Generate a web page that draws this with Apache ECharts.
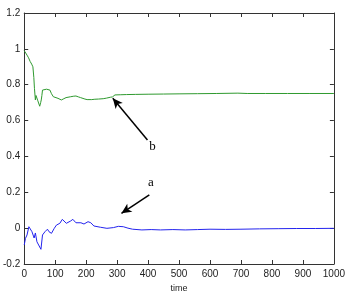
<!DOCTYPE html>
<html>
<head>
<meta charset="utf-8">
<script src="https://cdn.jsdelivr.net/npm/echarts@6/dist/echarts.min.js"></script>
<style>
  html, body { margin: 0; padding: 0; background: #fff; }
  #chart { width: 348px; height: 298px; }
</style>
</head>
<body>
<div id="chart"></div>
<script>
// x tick labels
var xTicks = [0, 100, 200, 300, 400, 500, 600, 700, 800, 900, 1000];

// curve b (green): [time, value]
var seriesB = [
  [0, 0.99], [4, 0.985], [9, 0.965], [14, 0.95], [19, 0.93], [24, 0.915], [28, 0.9],
  [31, 0.84], [33, 0.78], [36, 0.715], [38, 0.74], [41, 0.73], [44, 0.71], [46, 0.70],
  [48, 0.72], [50, 0.68], [53, 0.70], [55, 0.715], [57, 0.74], [59, 0.77], [62, 0.778],
  [65, 0.778], [72, 0.775], [78, 0.772], [83, 0.77], [88, 0.75], [94, 0.733], [100, 0.728],
  [109, 0.724], [115, 0.718], [120, 0.715], [128, 0.722], [135, 0.728], [141, 0.73],
  [150, 0.733], [160, 0.736], [167, 0.737], [175, 0.732], [182, 0.728], [188, 0.724],
  [196, 0.72], [203, 0.717], [209, 0.715], [218, 0.717], [228, 0.719], [240, 0.72],
  [246, 0.72], [255, 0.722], [265, 0.725], [278, 0.73], [285, 0.732], [288, 0.74],
  [293, 0.743], [310, 0.744], [330, 0.745], [360, 0.746], [400, 0.747], [450, 0.748],
  [500, 0.749], [560, 0.75], [620, 0.751], [690, 0.753], [720, 0.751], [780, 0.751],
  [850, 0.751], [920, 0.751], [1000, 0.751]
];

// curve a (blue): [time, value]
var seriesA = [
  [0, -0.094], [4, -0.057], [9, -0.038], [15, 0.008], [19, 0.017], [25, -0.02],
  [32, -0.055], [36, -0.027], [41, -0.076], [46, -0.083], [54, -0.118], [59, -0.038],
  [67, -0.02], [75, -0.006], [80, -0.02], [88, -0.029], [97, -0.001], [104, 0.017],
  [115, 0.027], [123, 0.049], [136, 0.027], [150, 0.04], [157, 0.049], [167, 0.03],
  [183, 0.03], [193, 0.023], [206, 0.036], [215, 0.03], [225, 0.012], [246, 0.005],
  [267, -0.001], [288, 0.003], [304, 0.01], [320, 0.008], [335, 0.0], [350, -0.006],
  [380, -0.01], [410, -0.008], [440, -0.01], [480, -0.008], [520, -0.01], [560, -0.008],
  [600, -0.006], [650, -0.007], [700, -0.006], [760, -0.004], [820, -0.003],
  [880, -0.002], [940, -0.002], [1000, -0.001]
];

// annotation arrows: [tail, tip] in data coordinates
var arrowA = [[404, 0.185], [314, 0.083]];
var arrowB = [[398, 0.492], [286, 0.724]];
var labelA = [409, 0.253];
var labelB = [414, 0.454];

var axisColor = '#333';
var tickFont = { color: '#222', fontSize: 10, fontFamily: 'Liberation Sans' };

var myChart = echarts.init(document.getElementById('chart'), null, { renderer: 'canvas' });

function arrowLine(pair) {
  return {
    silent: true,
    symbol: ['none', 'arrow'],
    symbolSize: [7, 10],
    lineStyle: { color: '#000', width: 1.5, type: 'solid' },
    label: { show: false },
    data: [[{ coord: pair[0] }, { coord: pair[1] }]]
  };
}

function textPoint(pos, txt) {
  return {
    silent: true,
    symbol: 'circle',
    symbolSize: 0,
    label: {
      show: true,
      position: 'inside',
      formatter: txt,
      color: '#000',
      fontSize: 13,
      fontFamily: 'Liberation Serif'
    },
    data: [{ coord: pos }]
  };
}

function plainAxis(pos, labels) {
  return {
    axisLine: { show: true, onZero: false, lineStyle: { color: axisColor, width: 1 } },
    axisTick: { show: true, inside: true, length: 4, lineStyle: { color: axisColor } },
    splitLine: { show: false },
    position: pos
  };
}

myChart.setOption({
  animation: false,
  backgroundColor: '#fff',
  grid: { left: 22, right: 9, top: 13, bottom: 34 },
  xAxis: [
    Object.assign(plainAxis('bottom'), {
      type: 'value',
      min: 0, max: 1000, interval: 100,
      name: 'time',
      nameLocation: 'middle',
      nameGap: 17,
      nameTextStyle: { color: '#222', fontSize: 9, fontFamily: 'Liberation Sans' },
      axisLabel: Object.assign({ margin: 5, formatter: function (v) { return String(v); } }, tickFont)
    }),
    Object.assign(plainAxis('top'), {
      type: 'value',
      min: 0, max: 1000, interval: 100,
      axisLabel: { show: false }
    })
  ],
  yAxis: [
    Object.assign(plainAxis('left'), {
      type: 'value',
      min: -0.2, max: 1.2, interval: 0.2,
      axisLabel: Object.assign({ margin: 4, formatter: function (v) {
        return String(Math.round(v * 10) / 10);
      } }, tickFont)
    }),
    Object.assign(plainAxis('right'), {
      type: 'value',
      min: -0.2, max: 1.2, interval: 0.2,
      axisLabel: { show: false }
    })
  ],
  series: [
    {
      name: 'b',
      type: 'line',
      data: seriesB,
      showSymbol: false,
      lineStyle: { color: '#2f9a2f', width: 1 },
      markLine: arrowLine(arrowB),
      markPoint: textPoint(labelB, 'b')
    },
    {
      name: 'a',
      type: 'line',
      data: seriesA,
      showSymbol: false,
      lineStyle: { color: '#2424ee', width: 1 },
      markLine: arrowLine(arrowA),
      markPoint: textPoint(labelA, 'a')
    }
  ]
});
</script>
</body>
</html>
